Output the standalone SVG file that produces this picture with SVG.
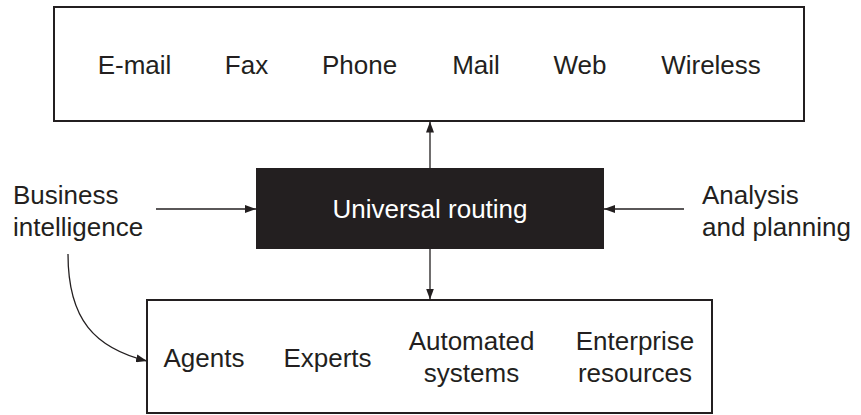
<svg xmlns="http://www.w3.org/2000/svg" width="861" height="415" viewBox="0 0 861 415">
  <style>
    .box { fill: #ffffff; stroke: #231f20; stroke-width: 2; }
    .core { fill: #231f20; stroke: none; }
    .lbl { font-family: "Liberation Sans", Arial, Helvetica, sans-serif; font-size: 26px; fill: #231f20; text-anchor: middle; }
    .side { font-family: "Liberation Sans", Arial, Helvetica, sans-serif; font-size: 26px; fill: #231f20; text-anchor: start; }
    .inv { fill: #ffffff; }
    .wire { fill: none; stroke: #231f20; stroke-width: 1.3; }
  </style>
  <defs>
    <marker id="arrow" markerUnits="userSpaceOnUse" markerWidth="11" markerHeight="8" refX="11" refY="4" orient="auto">
      <path d="M0,0 L11,4 L0,8 z" fill="#231f20"/>
    </marker>
  </defs>

  <!-- Channels -->
  <g id="channels">
    <rect class="box" x="54" y="7" width="750" height="114"/>
    <text class="lbl" x="134.5" y="74">E-mail</text>
    <text class="lbl" x="246.5" y="74">Fax</text>
    <text class="lbl" x="359.5" y="74">Phone</text>
    <text class="lbl" x="476" y="74">Mail</text>
    <text class="lbl" x="580" y="74">Web</text>
    <text class="lbl" x="711" y="74">Wireless</text>
  </g>

  <!-- Routing core -->
  <g id="routing">
    <rect class="core" x="256" y="168" width="348" height="81"/>
    <text class="lbl inv" x="430" y="218">Universal routing</text>
  </g>

  <!-- Inputs -->
  <g id="business-intelligence">
    <text class="side" x="13" y="204">Business</text>
    <text class="side" x="13" y="236">intelligence</text>
  </g>
  <g id="analysis-planning">
    <text class="side" x="702" y="204">Analysis</text>
    <text class="side" x="702" y="236">and planning</text>
  </g>

  <!-- Resources -->
  <g id="resources">
    <rect class="box" x="147" y="300" width="565" height="113"/>
    <text class="lbl" x="204" y="367">Agents</text>
    <text class="lbl" x="327.5" y="367">Experts</text>
    <text class="lbl" x="471.5" y="350">Automated</text>
    <text class="lbl" x="471.5" y="382">systems</text>
    <text class="lbl" x="635" y="350">Enterprise</text>
    <text class="lbl" x="635" y="382">resources</text>
  </g>

  <!-- Connectors -->
  <g id="connectors">
    <line class="wire" x1="430" y1="168" x2="430" y2="121.5" marker-end="url(#arrow)"/>
    <line class="wire" x1="430" y1="249" x2="430" y2="299.5" marker-end="url(#arrow)"/>
    <line class="wire" x1="156" y1="209" x2="256" y2="209" marker-end="url(#arrow)"/>
    <line class="wire" x1="684" y1="209" x2="604" y2="209" marker-end="url(#arrow)"/>
    <path class="wire" d="M68,254 C68,320 95,348 147,361" marker-end="url(#arrow)"/>
  </g>
</svg>
